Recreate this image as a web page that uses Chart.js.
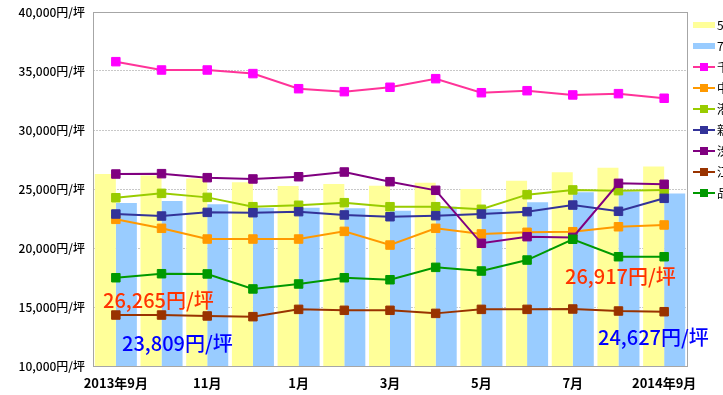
<!DOCTYPE html>
<html>
<head>
<meta charset="utf-8">
<script src="https://cdn.jsdelivr.net/npm/chart.js@4/dist/chart.umd.min.js"></script>
<style>
  html, body { margin: 0; padding: 0; background: #fff; overflow: hidden; }
  #wrap { width: 723px; height: 395px; }
</style>
</head>
<body>
<div id="wrap"><canvas id="chart" width="723" height="395"></canvas></div>
<script>
const months = ['2013年9月', '10月', '11月', '12月', '1月', '2月', '3月', '4月', '5月', '6月', '7月', '8月', '2014年9月'];

const avg5 = [26265, 26150, 25900, 25570, 25250, 25420, 25280, 25540, 25000, 25700, 26410, 26810, 26917];
const avg7 = [23809, 23980, 23700, 23400, 23420, 23360, 23160, 23500, 23300, 23870, 24720, 24780, 24627];
const chiyoda = [35790, 35085, 35085, 34780, 33500, 33250, 33620, 34350, 33160, 33330, 32970, 33080, 32690];
const chuo = [22430, 21670, 20760, 20760, 20760, 21410, 20250, 21670, 21190, 21330, 21380, 21800, 21950];
const minato = [24260, 24630, 24290, 23500, 23620, 23840, 23500, 23500, 23280, 24520, 24920, 24860, 24920];
const shinjuku = [22880, 22710, 23020, 22990, 23080, 22800, 22650, 22740, 22880, 23080, 23640, 23110, 24210];
const shibuya = [26270, 26300, 25960, 25850, 26040, 26440, 25620, 24890, 20400, 20960, 20900, 25480, 25400];
const koto = [14320, 14320, 14240, 14180, 14800, 14720, 14720, 14460, 14800, 14800, 14830, 14660, 14600];
const shinagawa = [17480, 17820, 17800, 16530, 16950, 17480, 17310, 18360, 18050, 18980, 20740, 19260, 19260];

const yTicks = { min: 10000, max: 40000, step: 5000 };

// callout texts (first / last month of the two averages)
const callouts = [
    { text: '26,265円/坪', color: '#ff3300', x: 103, y: 300 },
    { text: '23,809円/坪', color: '#0000ff', x: 122, y: 343 },
    { text: '26,917円/坪', color: '#ff3300', x: 565, y: 276 },
    { text: '24,627円/坪', color: '#0000ff', x: 598, y: 337 }
];

const FONT = '"Noto Sans CJK JP", "Noto Sans", sans-serif';

const lineSeries = [
    { label: '千代田区', data: chiyoda, line: '#ff3399', mark: '#ff00ff' },
    { label: '中央区', data: chuo, line: '#ff9900', mark: '#ff9900' },
    { label: '港区', data: minato, line: '#99cc00', mark: '#99cc00' },
    { label: '新宿区', data: shinjuku, line: '#333399', mark: '#333399' },
    { label: '渋谷区', data: shibuya, line: '#800080', mark: '#800080' },
    { label: '江東区', data: koto, line: '#993300', mark: '#993300' },
    { label: '品川区', data: shinagawa, line: '#009900', mark: '#009900' }
];

const datasets = [
    { type: 'bar', label: '5区平均', data: avg5, backgroundColor: '#ffff99', order: 100,
      categoryPercentage: 0.92, barPercentage: 1.0 },
    { type: 'bar', label: '7区平均', data: avg7, backgroundColor: '#99ccff', order: 100,
      categoryPercentage: 0.92, barPercentage: 1.0 }
];
lineSeries.forEach((s, i) => {
    datasets.push({
        type: 'line', label: s.label, data: s.data,
        borderColor: s.line, borderWidth: 2, tension: 0,
        pointStyle: 'rect', pointRadius: 6, pointBorderWidth: 1,
        pointBackgroundColor: s.mark, pointBorderColor: s.mark,
        order: 10 - i
    });
});

const frame = {
    id: 'frame',
    afterDatasetsDraw(chart) {
        const { ctx, chartArea: a } = chart;
        ctx.save();
        ctx.strokeStyle = '#a6a6a6';
        ctx.lineWidth = 1;
        ctx.strokeRect(a.left + 0.5, a.top + 0.5, a.right - a.left, a.bottom - a.top);
        ctx.restore();
    },
    afterDraw(chart) {
        const { ctx } = chart;
        ctx.save();
        // legend (cut off at the right edge like the original)
        chart.data.datasets.forEach((ds, i) => {
            const y = 25 + i * 21;
            if (ds.type === 'bar') {
                ctx.fillStyle = ds.backgroundColor;
                ctx.fillRect(693, y - 3, 22, 6);
            } else {
                ctx.strokeStyle = ds.borderColor;
                ctx.lineWidth = 2;
                ctx.beginPath();
                ctx.moveTo(693, y);
                ctx.lineTo(715, y);
                ctx.stroke();
                ctx.fillStyle = ds.pointBackgroundColor;
                ctx.fillRect(700, y - 4, 8, 8);
            }
            ctx.fillStyle = '#000';
            ctx.font = '12px ' + FONT;
            ctx.textBaseline = 'middle';
            ctx.fillText(ds.label, 717, y);
        });
        // value callouts
        ctx.font = '500 20px ' + FONT;
        ctx.textBaseline = 'middle';
        callouts.forEach(c => {
            ctx.fillStyle = c.color;
            ctx.fillText(c.text, c.x, c.y);
        });
        ctx.restore();
    }
};

new Chart(document.getElementById('chart'), {
    data: { labels: months, datasets },
    options: {
        responsive: false,
        animation: false,
        layout: { padding: { top: 0, right: 36, left: 0, bottom: 0 } },
        plugins: { legend: { display: false }, tooltip: { enabled: false } },
        scales: {
            x: {
                offset: true,
                grid: { display: false, drawTicks: false },
                border: { display: false },
                afterFit: s => { s.height = 29; },
                ticks: {
                    autoSkip: false, maxRotation: 0, padding: 9,
                    color: '#000', font: { family: FONT, size: 13, weight: 'bold' },
                    callback: (v, i) => (i % 2 === 0 ? months[i] : '')
                }
            },
            y: {
                min: yTicks.min, max: yTicks.max,
                grid: { color: '#c8c8c8', drawTicks: false },
                border: { display: false, dash: [2, 1] },
                afterFit: s => { s.width = 93; s.paddingTop = 12; },
                ticks: {
                    stepSize: yTicks.step, padding: 8,
                    color: '#000', font: { family: FONT, size: 12, weight: '500' },
                    callback: v => v.toLocaleString('en-US') + '円/坪'
                }
            }
        }
    },
    plugins: [frame]
});
</script>
</body>
</html>
